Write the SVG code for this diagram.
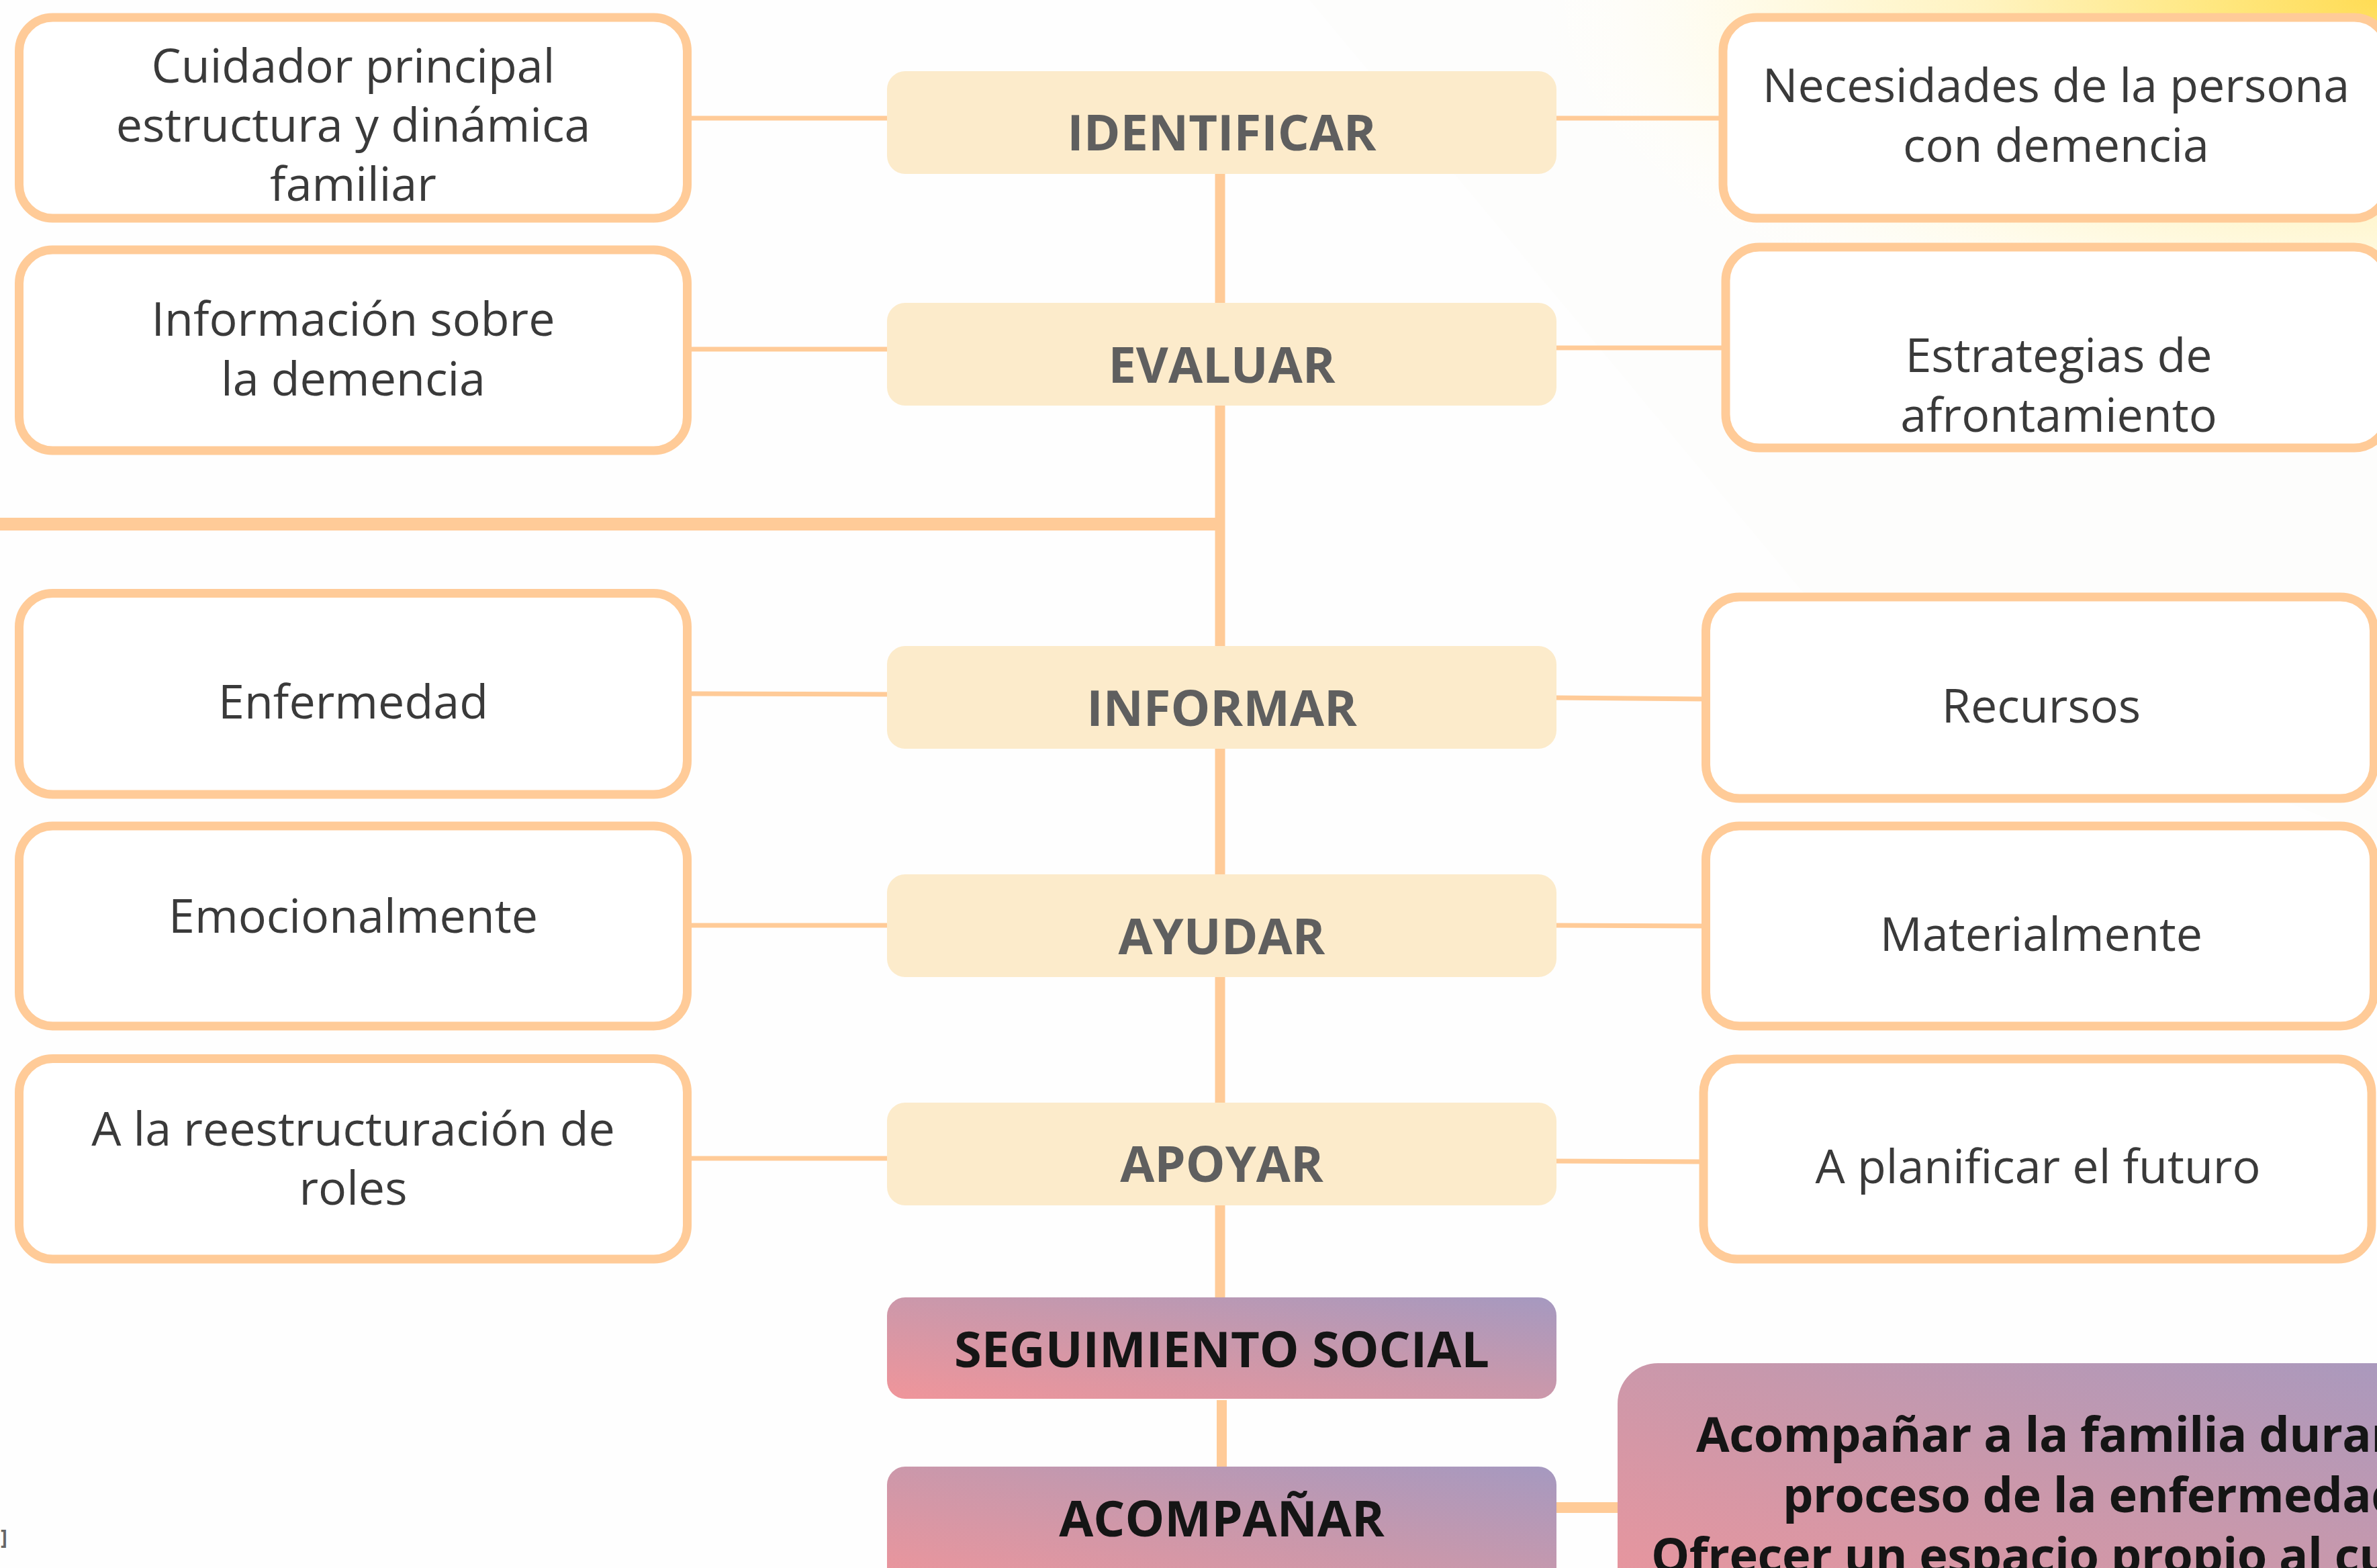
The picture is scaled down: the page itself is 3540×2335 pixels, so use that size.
<svg xmlns="http://www.w3.org/2000/svg" width="3540" height="2335" viewBox="0 0 3540 2335">
<defs>
<radialGradient id="glow" gradientUnits="userSpaceOnUse" cx="0" cy="0" r="1" gradientTransform="translate(3540 0) scale(1300 580)">
<stop offset="0" stop-color="#FFDC55"/>
<stop offset="0.2" stop-color="#FFE883"/>
<stop offset="0.45" stop-color="#FFF3C0"/>
<stop offset="0.72" stop-color="#FFFBE8"/>
<stop offset="1" stop-color="#FFFFFF" stop-opacity="0"/>
</radialGradient>
<linearGradient id="pink" x1="0" y1="1" x2="1" y2="0">
<stop offset="0" stop-color="#F0959A"/>
<stop offset="0.55" stop-color="#C898AC"/>
<stop offset="1" stop-color="#A599C0"/>
</linearGradient>
<style>
.side{fill:#FFFFFF;stroke:#FFCB98;stroke-width:13}
.main{fill:#FCEBCB}
.conn{stroke:#FFCB98;fill:none}
.thin{stroke-width:7}
.t{font-family:"Open Sans","Noto Sans","DejaVu Sans",sans-serif;font-size:70px;fill:#3A3A3A;text-anchor:middle}
.b{font-family:"Open Sans","Noto Sans","DejaVu Sans",sans-serif;font-size:74px;font-weight:700;fill:#5F5F5F;text-anchor:middle}
.k{font-family:"Open Sans","Noto Sans","DejaVu Sans",sans-serif;font-size:74px;font-weight:700;fill:#151515}
.kb{font-size:72px;letter-spacing:-0.5px}
</style>
</defs>
<rect x="0" y="0" width="3540" height="2335" fill="#FEFEFE"/>
<polygon points="1950,0 3540,0 3540,1250 2700,900" fill="#F6F6F4" opacity="0.15"/>
<rect x="1800" y="0" width="1740" height="700" fill="url(#glow)"/>

<g id="connectors">
<line class="conn" x1="1817" y1="250" x2="1817" y2="1940" stroke-width="15"/>
<line class="conn" x1="1819.5" y1="2085" x2="1819.5" y2="2190" stroke-width="15"/>
<line class="conn" x1="0" y1="780.5" x2="1824" y2="780.5" stroke-width="19"/>
<line class="conn thin" x1="1025" y1="176" x2="1325" y2="176"/>
<line class="conn thin" x1="2315" y1="176" x2="2570" y2="176"/>
<line class="conn thin" x1="1025" y1="520" x2="1325" y2="520"/>
<line class="conn thin" x1="2315" y1="518" x2="2574" y2="518"/>
<line class="conn thin" x1="1025" y1="1033" x2="1325" y2="1034"/>
<line class="conn thin" x1="2315" y1="1039" x2="2545" y2="1041"/>
<line class="conn thin" x1="1025" y1="1378" x2="1325" y2="1378"/>
<line class="conn thin" x1="2315" y1="1378" x2="2545" y2="1379"/>
<line class="conn thin" x1="1025" y1="1725" x2="1325" y2="1725"/>
<line class="conn thin" x1="2315" y1="1729" x2="2541" y2="1730"/>
<line class="conn" x1="2315" y1="2245" x2="2412" y2="2245" stroke-width="16"/>
</g>

<g id="n-identificar">
<rect class="main" x="1321" y="106" width="997" height="153" rx="27"/>
<text class="b" x="1819.5" y="224">IDENTIFICAR</text>
</g>
<g id="n-evaluar">
<rect class="main" x="1321" y="451" width="997" height="153" rx="27"/>
<text class="b" x="1819.5" y="570">EVALUAR</text>
</g>
<g id="n-informar">
<rect class="main" x="1321" y="962" width="997" height="153" rx="27"/>
<text class="b" x="1819.5" y="1081">INFORMAR</text>
</g>
<g id="n-ayudar">
<rect class="main" x="1321" y="1302" width="997" height="153" rx="27"/>
<text class="b" x="1819.5" y="1421">AYUDAR</text>
</g>
<g id="n-apoyar">
<rect class="main" x="1321" y="1642" width="997" height="153" rx="27"/>
<text class="b" x="1819.5" y="1760">APOYAR</text>
</g>
<g id="n-seguimiento">
<rect x="1321" y="1932" width="997" height="151" rx="27" fill="url(#pink)"/>
<text class="k" x="1819.5" y="2036" text-anchor="middle">SEGUIMIENTO SOCIAL</text>
</g>
<g id="n-acompanar">
<rect x="1321" y="2184" width="997" height="190" rx="27" fill="url(#pink)"/>
<text class="k" x="1819.5" y="2288" text-anchor="middle">ACOMPAÑAR</text>
</g>

<g id="n-cuidador">
<rect class="side" x="28.5" y="26" width="995" height="299" rx="50"/>
<text class="t" x="526" y="123">Cuidador principal</text>
<text class="t" x="526" y="211">estructura y dinámica</text>
<text class="t" x="526" y="299">familiar</text>
</g>
<g id="n-informacion">
<rect class="side" x="28.5" y="372" width="995" height="299" rx="50"/>
<text class="t" x="526" y="500">Información sobre</text>
<text class="t" x="526" y="589">la demencia</text>
</g>
<g id="n-enfermedad">
<rect class="side" x="28.5" y="883.5" width="995" height="299.5" rx="50"/>
<text class="t" x="526" y="1070">Enfermedad</text>
</g>
<g id="n-emocionalmente">
<rect class="side" x="28.5" y="1230" width="995" height="298" rx="50"/>
<text class="t" x="526" y="1389">Emocionalmente</text>
</g>
<g id="n-reestructuracion">
<rect class="side" x="28.5" y="1576.5" width="995" height="298.5" rx="50"/>
<text class="t" x="526" y="1706">A la reestructuración de</text>
<text class="t" x="526" y="1794">roles</text>
</g>

<g id="n-necesidades">
<rect class="side" x="2566" y="26" width="990" height="299" rx="50"/>
<text class="t" x="3062" y="152">Necesidades de la persona</text>
<text class="t" x="3062" y="241">con demencia</text>
</g>
<g id="n-estrategias">
<rect class="side" x="2570" y="368" width="986" height="299" rx="50"/>
<text class="t" x="3066" y="554">Estrategias de</text>
<text class="t" x="3066" y="643">afrontamiento</text>
</g>
<g id="n-recursos">
<rect class="side" x="2540.5" y="889" width="995" height="300" rx="50"/>
<text class="t" x="3040" y="1076">Recursos</text>
</g>
<g id="n-materialmente">
<rect class="side" x="2540.5" y="1230" width="995" height="298" rx="50"/>
<text class="t" x="3040" y="1416">Materialmente</text>
</g>
<g id="n-planificar">
<rect class="side" x="2537" y="1577" width="995" height="298" rx="50"/>
<text class="t" x="3035" y="1762">A planificar el futuro</text>
</g>

<g id="n-acompanar-familia">
<rect x="2409" y="2030" width="1300" height="420" rx="60" fill="url(#pink)"/>
<text class="k kb" x="2526" y="2162">Acompañar a la familia durante</text>
<text class="k kb" x="2655" y="2252">proceso de la enfermedad</text>
<text class="k kb" x="2459" y="2342">Ofrecer un espacio propio al cuidador</text>
</g>

<text x="11" y="2300" text-anchor="end" font-family="Open Sans, sans-serif" font-size="30" font-weight="700" fill="#666666">]</text>
</svg>
